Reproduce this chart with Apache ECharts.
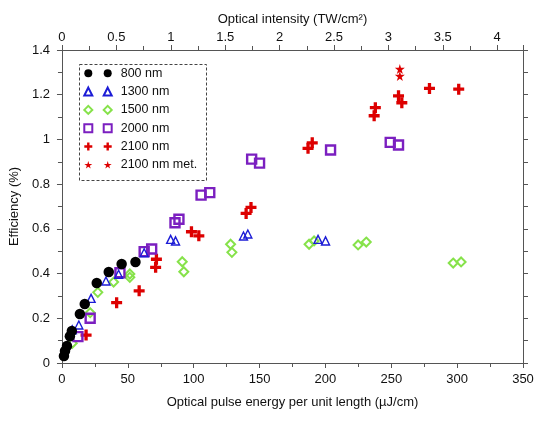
<!DOCTYPE html>
<html>
<head>
<meta charset="utf-8">
<script src="https://cdn.jsdelivr.net/npm/echarts@6/dist/echarts.min.js"></script>
<style>html,body{margin:0;padding:0;background:#fff;}#c{width:559px;height:421px;}</style>
</head>
<body>
<div id="c"></div>
<script>
// ---- data (x: µJ/cm, y: efficiency %) ----
const seriesNames = ['800 nm', '1300 nm', '1500 nm', '2000 nm', '2100 nm', '2100 nm met.'];

const x800 = [1.5, 2.3, 3.8, 6.0, 7.5, 13.6, 17.3, 26.4, 35.5, 45.3, 55.8];
const y800 = [0.031, 0.054, 0.076, 0.12, 0.143, 0.219, 0.264, 0.358, 0.407, 0.443, 0.452];

const x1300 = [7.8, 12.8, 22.1, 33.4, 43.0, 62.4, 82.5, 86.2, 137.8, 141.1, 194.4, 200.1];
const y1300 = [0.148, 0.170, 0.289, 0.367, 0.397, 0.493, 0.553, 0.546, 0.568, 0.577, 0.553, 0.546];

const x1500 = [7.8, 21.4, 27.2, 39.2, 51.5, 51.5, 91.3, 92.5, 128.0, 129.0, 187.6, 191.4, 224.8, 231.0, 297.0, 303.0];
const y1500 = [0.088, 0.225, 0.316, 0.362, 0.398, 0.383, 0.453, 0.408, 0.531, 0.495, 0.531, 0.546, 0.528, 0.541, 0.447, 0.452];

const x2000 = [12.1, 21.4, 44.0, 62.4, 68.1, 85.8, 88.8, 105.6, 112.2, 144.0, 150.0, 203.9, 249.2, 255.5];
const y2000 = [0.118, 0.200, 0.404, 0.498, 0.510, 0.627, 0.643, 0.751, 0.762, 0.912, 0.894, 0.953, 0.987, 0.975];

const x2100 = [18.3, 41.5, 58.6, 71.7, 71.1, 98.3, 103.9, 139.8, 143.5, 186.8, 190.0, 237.0, 237.9, 255.5, 258.0, 279.0, 301.2];
const y2100 = [0.125, 0.270, 0.323, 0.464, 0.428, 0.587, 0.569, 0.669, 0.696, 0.960, 0.985, 1.106, 1.142, 1.195, 1.164, 1.228, 1.225];

const x2100met = [256.5, 256.5];
const y2100met = [1.315, 1.284];

// ---- axes ----
const xMin = 0, xMax = 350, xInterval = 50;
const yMin = 0, yMax = 1.4, yInterval = 0.2;
const topMin = 0, topMax = 4.237, topInterval = 0.5;

const xName = 'Optical pulse energy per unit length (µJ/cm)';
const yName = 'Efficiency (%)';
const topName = 'Optical intensity (TW/cm²)';

function pairs(xs, ys) { return xs.map((v, i) => [v, ys[i]]); }

const FONT = '"Liberation Sans", Arial, sans-serif';
const AX = '#555';
const plusPath = 'path://M3.5,0H6.5V3.5H10V6.5H6.5V10H3.5V6.5H0V3.5H3.5Z';
const starPath = 'path://M50,0L61,35L98,35L68,57L79,91L50,70L21,91L32,57L2,35L39,35Z';
const HOLLOW = 'rgba(255,255,255,0)';

const styles = {
  '800 nm': { symbol: 'circle', symbolSize: 10.5, itemStyle: { color: '#000', opacity: 1 } },
  '1300 nm': { symbol: 'triangle', symbolSize: 8, itemStyle: { color: HOLLOW, borderColor: '#1c1cd6', borderWidth: 1.4, opacity: 1 } },
  '1500 nm': { symbol: 'diamond', symbolSize: 9, itemStyle: { color: HOLLOW, borderColor: '#86e24a', borderWidth: 2, opacity: 1 } },
  '2000 nm': { symbol: 'rect', symbolSize: 9, itemStyle: { color: HOLLOW, borderColor: '#7b1fc0', borderWidth: 2.4, opacity: 1 } },
  '2100 nm': { symbol: plusPath, symbolSize: 11, itemStyle: { color: '#dd0000', opacity: 1 } },
  '2100 nm met.': { symbol: starPath, symbolSize: 10, itemStyle: { color: '#dd0000', opacity: 1 } }
};
const dataMap = {
  '800 nm': pairs(x800, y800),
  '1300 nm': pairs(x1300, y1300),
  '1500 nm': pairs(x1500, y1500),
  '2000 nm': pairs(x2000, y2000),
  '2100 nm': pairs(x2100, y2100),
  '2100 nm met.': pairs(x2100met, y2100met)
};
const drawOrder = ['2100 nm met.', '2100 nm', '1500 nm', '2000 nm', '1300 nm', '800 nm'];

const series = drawOrder.map(n => Object.assign({
  name: n, type: 'scatter', xAxisIndex: 0, yAxisIndex: 0,
  data: dataMap[n], emphasis: { disabled: true }
}, styles[n]));

const legendCommon = {
  orient: 'vertical', top: 66.3, padding: 0, itemWidth: 8, itemHeight: 8, itemGap: 4.3,
  data: seriesNames, selectedMode: false,
  textStyle: { fontFamily: FONT, fontSize: 12.5, color: '#111', lineHeight: 14, padding: [0, 0, 0, 4] }
};

const chart = echarts.init(document.getElementById('c'), null, { renderer: 'canvas' });
chart.setOption({
  animation: false,
  backgroundColor: '#fff',
  grid: { left: 59, right: 36, top: 50, bottom: 58, containLabel: false },
  legend: [
    Object.assign({}, legendCommon, { left: 83.3, textStyle: Object.assign({}, legendCommon.textStyle, { color: 'rgba(0,0,0,0)' }) }),
    Object.assign({}, legendCommon, { left: 102.7 })
  ],
  graphic: [{
    type: 'rect', left: 77, top: 62, z: 100, silent: true,
    shape: { width: 127, height: 116 },
    style: { fill: 'none', stroke: '#444', lineWidth: 1, lineDash: [3, 2] }
  }],
  xAxis: [{
    type: 'value', position: 'bottom', min: xMin, max: xMax, interval: xInterval,
    name: xName, nameLocation: 'middle', nameGap: 33,
    nameTextStyle: { fontFamily: FONT, fontSize: 13, color: '#111' },
    axisLine: { show: true, onZero: false, lineStyle: { color: AX, width: 1 } },
    axisTick: { show: true, inside: false, length: 5, lineStyle: { color: AX } },
    minorTick: { show: true, splitNumber: 2, length: 4, lineStyle: { color: AX } },
    axisLabel: { margin: 9.5, fontFamily: FONT, fontSize: 13, color: '#111' },
    splitLine: { show: false }
  }, {
    type: 'value', position: 'top', min: topMin, max: topMax, interval: topInterval,
    name: topName, nameLocation: 'middle', nameGap: 22.5,
    nameTextStyle: { fontFamily: FONT, fontSize: 13, color: '#111' },
    axisLine: { show: true, onZero: false, lineStyle: { color: AX, width: 1 } },
    axisTick: { show: true, inside: false, length: 5, lineStyle: { color: AX } },
    minorTick: { show: true, splitNumber: 2, length: 4, lineStyle: { color: AX } },
    axisLabel: { margin: 6.5, fontFamily: FONT, fontSize: 13, color: '#111', showMaxLabel: false },
    splitLine: { show: false }
  }],
  yAxis: [{
    type: 'value', position: 'left', min: yMin, max: yMax, interval: yInterval,
    name: yName, nameLocation: 'middle', nameGap: 30,
    nameTextStyle: { fontFamily: FONT, fontSize: 13, color: '#111' },
    axisLine: { show: true, onZero: false, lineStyle: { color: AX, width: 1 } },
    axisTick: { show: true, inside: false, length: 5, lineStyle: { color: AX } },
    minorTick: { show: true, splitNumber: 2, length: 4, lineStyle: { color: AX } },
    axisLabel: { margin: 12, fontFamily: FONT, fontSize: 13, color: '#111' },
    splitLine: { show: false }
  }, {
    type: 'value', position: 'right', min: yMin, max: yMax, interval: yInterval,
    axisLine: { show: true, onZero: false, lineStyle: { color: AX, width: 1 } },
    axisTick: { show: true, inside: false, length: 5, lineStyle: { color: AX } },
    minorTick: { show: true, splitNumber: 2, length: 5, lineStyle: { color: AX } },
    axisLabel: { show: false },
    splitLine: { show: false }
  }],
  series: series
});
</script>
</body>
</html>
